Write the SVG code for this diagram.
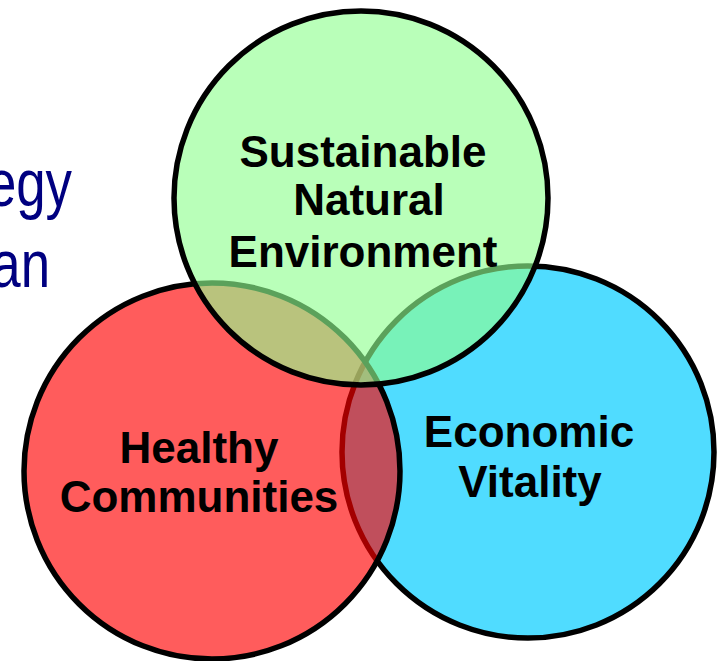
<svg xmlns="http://www.w3.org/2000/svg" width="720" height="661" viewBox="0 0 720 661">
  <style>
    .ring { stroke: #000; stroke-width: 5.5; }
    .label { font-family: "Liberation Sans", Arial, sans-serif; font-weight: bold; font-size: 44px; fill: #000; text-anchor: middle; }
    .title { font-family: "Liberation Sans", Arial, sans-serif; font-size: 66px; fill: #000080; text-anchor: end; }
  </style>
  <rect width="720" height="661" fill="#fff"/>

  <!-- title text running in from the left edge, set slightly condensed -->
  <g id="title">
    <text class="title" transform="translate(72,206) scale(0.8,1)">egy</text>
    <text class="title" transform="translate(50,287) scale(0.8,1)">an</text>
  </g>

  <!-- three overlapping circles; the upper two are translucent so the overlaps mix -->
  <g id="economic-vitality">
    <circle class="ring" cx="528" cy="452" r="186" fill="#50dcff"/>
    <text class="label" x="529" y="447">Economic</text>
    <text class="label" x="530" y="497">Vitality</text>
  </g>

  <g id="healthy-communities">
    <circle class="ring" cx="212" cy="471" r="188" fill="rgb(255,0,0)" fill-opacity="0.64"/>
    <text class="label" x="199" y="463">Healthy</text>
    <text class="label" x="199" y="512">Communities</text>
  </g>

  <g id="sustainable-natural-environment">
    <circle class="ring" cx="361" cy="198" r="187" fill="rgb(144,255,144)" fill-opacity="0.63"/>
    <text class="label" x="363" y="167">Sustainable</text>
    <text class="label" x="369" y="215">Natural</text>
    <text class="label" x="363" y="267">Environment</text>
  </g>
</svg>
